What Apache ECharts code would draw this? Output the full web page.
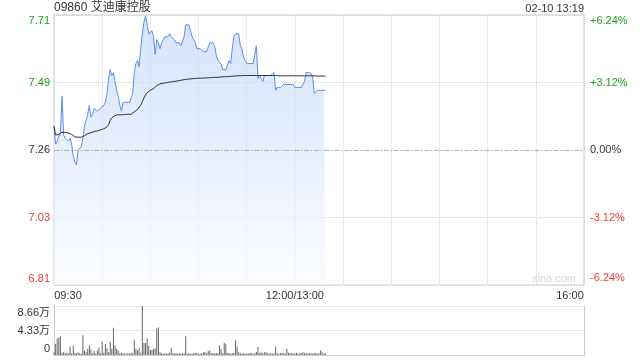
<!DOCTYPE html>
<html><head><meta charset="utf-8">
<script src="https://cdn.jsdelivr.net/npm/echarts@6/dist/echarts.min.js"></script>
<style>html,body{margin:0;padding:0;background:#fff}#c{width:640px;height:360px}</style>
</head><body><div id="c"></div>
<script>
const titleText = '09860 艾迪康控股';
const timeText = '02-10 13:19';
const prevClose = 7.26;
const pctRange = 6.24;
const totalMinutes = 330;
const timeTickLabels = {0: '09:30', 150: '12:00/13:00', 330: '16:00'};

const price = [
 7.34,7.28,7.29,7.29,7.32,7.44,7.31,7.30,7.30,7.29,
 7.30,7.28,7.24,7.22,7.21,7.26,7.26,7.27,7.30,7.34,
 7.36,7.38,7.41,7.37,7.38,7.40,7.40,7.39,7.39,7.40,
 7.40,7.41,7.42,7.45,7.50,7.53,7.51,7.52,7.49,7.46,
 7.44,7.41,7.39,7.42,7.42,7.42,7.42,7.42,7.42,7.45,
 7.52,7.55,7.56,7.54,7.60,7.65,7.69,7.71,7.68,7.65,
 7.65,7.66,7.64,7.58,7.63,7.62,7.60,7.62,7.63,7.64,
 7.64,7.64,7.65,7.64,7.64,7.63,7.62,7.62,7.62,7.61,
 7.61,7.64,7.68,7.68,7.68,7.68,7.64,7.63,7.62,7.60,
 7.60,7.60,7.60,7.59,7.59,7.59,7.59,7.62,7.62,7.62,
 7.61,7.58,7.56,7.56,7.55,7.53,7.53,7.53,7.53,7.56,
 7.55,7.60,7.64,7.65,7.65,7.65,7.61,7.60,7.57,7.56,
 7.55,7.55,7.55,7.55,7.55,7.55,7.61,7.50,7.51,7.50,
 7.49,7.51,7.51,7.51,7.51,7.51,7.51,7.52,7.46,7.47,
 7.47,7.47,7.47,7.48,7.48,7.48,7.48,7.48,7.48,7.48,
 7.47,7.47,7.47,7.47,7.47,7.47,7.49,7.52,7.52,7.52,
 7.52,7.51,7.45,7.45,7.46,7.46,7.46,7.46,7.46,7.46
];

const avgPrice = [
 7.340,7.310,7.310,7.312,7.315,7.320,7.320,7.319,7.318,7.317,
 7.316,7.312,7.306,7.304,7.303,7.303,7.303,7.303,7.304,7.308,
 7.312,7.315,7.318,7.318,7.320,7.322,7.323,7.324,7.326,7.328,
 7.329,7.331,7.333,7.338,7.345,7.360,7.368,7.373,7.376,7.377,
 7.378,7.378,7.378,7.379,7.379,7.379,7.380,7.380,7.380,7.383,
 7.388,7.393,7.396,7.398,7.410,7.422,7.435,7.445,7.452,7.457,
 7.461,7.463,7.466,7.470,7.476,7.480,7.482,7.483,7.484,7.485,
 7.486,7.487,7.488,7.488,7.489,7.490,7.491,7.492,7.493,7.494,
 7.495,7.496,7.497,7.498,7.498,7.499,7.499,7.500,7.500,7.500,
 7.501,7.501,7.501,7.502,7.502,7.502,7.502,7.503,7.503,7.503,
 7.504,7.504,7.504,7.505,7.505,7.505,7.506,7.506,7.506,7.506,
 7.507,7.507,7.508,7.508,7.509,7.509,7.509,7.510,7.510,7.510,
 7.510,7.510,7.510,7.510,7.510,7.510,7.510,7.510,7.510,7.510,
 7.510,7.510,7.510,7.510,7.510,7.510,7.510,7.510,7.510,7.510,
 7.509,7.509,7.509,7.509,7.509,7.509,7.509,7.509,7.509,7.509,
 7.509,7.509,7.509,7.509,7.509,7.509,7.509,7.509,7.509,7.509,
 7.509,7.509,7.509,7.508,7.508,7.508,7.508,7.508,7.508,7.508
];

// volume in 万 shares
const volume = [
 0.5,2.0,2.9,3.1,3.3,0.4,0.5,0.3,0.4,0.3,
 1.5,0.3,1.7,0.4,0.3,0.5,0.3,0.2,3.5,0.8,
 0.5,1.1,1.7,1.0,0.3,0.7,0.2,0.8,1.3,0.3,
 2.4,0.4,2.0,1.2,0.5,2.3,1.1,4.8,1.7,1.1,
 0.8,0.3,0.4,0.3,0.2,0.2,0.3,0.2,0.4,0.3,
 2.7,1.1,0.8,1.3,0.4,8.66,2.1,2.1,2.9,1.7,
 0.9,0.9,1.1,1.1,4.7,4.9,0.5,0.3,0.2,0.3,
 0.2,0.3,0.4,1.3,0.3,0.2,0.3,0.2,0.3,0.2,
 0.3,0.3,3.3,0.2,0.3,0.2,0.2,0.3,0.35,0.3,
 0.24,0.2,0.3,0.47,0.53,0.3,0.65,0.8,0.3,0.35,
 0.2,0.35,0.3,1.7,1.1,0.3,2.1,1.9,0.3,0.35,
 0.24,0.3,0.35,2.6,1.5,0.47,0.3,0.24,0.3,0.24,
 0.3,0.24,0.35,0.3,0.24,0.3,0.53,1.4,0.3,0.47,
 0.3,0.47,0.47,0.3,0.24,0.3,0.24,0.3,1.5,0.35,
 0.24,0.3,0.35,0.3,0.24,1.1,0.35,0.3,0.35,0.24,
 0.3,0.35,0.24,0.3,0.35,0.47,0.3,0.35,0.24,0.3,
 0.35,0.24,0.3,0.35,0.24,0.3,0.8,0.47,0.24,0.3
];
const volMax = 8.66; // 万

const FONT = '"Liberation Sans", Arial, "Noto Sans CJK SC", sans-serif';
const GREEN = '#1c9f1c', RED = '#f03a32', DARK = '#333';
const pMin = prevClose * (1 - pctRange / 100);
const pMax = prevClose * (1 + pctRange / 100);
const pInt = prevClose * pctRange / 200;

const chart = echarts.init(document.getElementById('c'));

function styleKey(d, atMax, atMin) {
  let k = Math.abs(d) < 1e-6 ? 'k' : (d > 0 ? 'g' : 'r');
  if (atMax) k += 't';
  if (atMin) k += 'b';
  return k;
}
const richColors = {
  k: {color: DARK}, g: {color: GREEN}, r: {color: RED},
  gt: {color: GREEN, padding: [11, 0, 0, 0]}, rb: {color: RED, padding: [0, 0, 13, 0]},
  kt: {color: DARK, padding: [11, 0, 0, 0]}, kb: {color: DARK, padding: [0, 0, 13, 0]}
};

chart.setOption({
  animation: false,
  backgroundColor: '#fff',
  textStyle: {fontFamily: FONT},
  title: [
    {text: titleText, left: 54, top: 2, padding: 0,
     textStyle: {fontSize: 12, fontWeight: 'normal', color: DARK, fontFamily: FONT}},
    {text: timeText, right: 56, top: 3, padding: 0,
     textStyle: {fontSize: 11, fontWeight: 'normal', color: DARK, fontFamily: FONT}}
  ],
  graphic: [
    {type: 'text', left: 532, top: 273, silent: true,
     style: {text: 'sina.com', fill: '#d6d6d6', font: '11px ' + FONT}}
  ],
  grid: [
    {left: 54, right: 56, top: 15, height: 270, show: true, borderColor: '#cccccc', borderWidth: 1},
    {left: 54, right: 56, top: 306, height: 49}
  ],
  xAxis: [
    {type: 'value', gridIndex: 0, min: 0, max: totalMinutes, interval: 30,
     axisLine: {show: false}, axisTick: {show: false},
     splitLine: {show: true, lineStyle: {color: '#d4d4d4', type: 'dotted'}},
     axisLabel: {
       margin: 5, fontSize: 11, color: DARK, fontFamily: FONT, showMinLabel: true, showMaxLabel: true,
       formatter: v => {
         const t = timeTickLabels[v];
         if (!t) return '';
         if (v === 0) return '{l|' + t + '}';
         if (v === totalMinutes) return '{r|' + t + '}';
         return '{m|' + t + '}';
       },
       rich: {l: {padding: [0, 0, 0, 28]}, r: {padding: [0, 28, 0, 0]}, m: {}}
     }},
    {type: 'value', gridIndex: 1, min: 0, max: totalMinutes, interval: 30,
     axisLine: {show: true, lineStyle: {color: '#cccccc'}}, axisTick: {show: false},
     axisLabel: {show: false}, splitLine: {show: false}}
  ],
  yAxis: [
    {type: 'value', gridIndex: 0, min: pMin, max: pMax, interval: pInt,
     axisLine: {show: false}, axisTick: {show: false},
     splitLine: {show: true, lineStyle: {color: '#d4d4d4', type: 'dotted'}},
     axisLabel: {
       margin: 4, fontSize: 11, fontFamily: FONT,
       formatter: v => {
         const k = styleKey(v - prevClose, Math.abs(v - pMax) < 1e-4, Math.abs(v - pMin) < 1e-4);
         return '{' + k + '|' + v.toFixed(2) + '}';
       },
       rich: richColors
     }},
    {type: 'value', gridIndex: 0, position: 'right', min: -pctRange, max: pctRange, interval: pctRange / 2,
     axisLine: {show: false}, axisTick: {show: false}, splitLine: {show: false},
     axisLabel: {
       margin: 6, fontSize: 11, fontFamily: FONT,
       formatter: v => {
         const k = styleKey(v, Math.abs(v - pctRange) < 1e-4, Math.abs(v + pctRange) < 1e-4);
         const s = (v > 1e-6 ? '+' : '') + v.toFixed(2) + '%';
         return '{' + k + '|' + s + '}';
       },
       rich: {
         k: {color: DARK}, g: {color: GREEN}, r: {color: RED},
         gt: {color: GREEN, padding: [12, 0, 0, 0]}, rb: {color: RED, padding: [0, 0, 14, 0]}
       }
     }},
    {type: 'value', gridIndex: 1, min: 0, max: volMax * 10000, interval: volMax * 5000,
     axisLine: {show: true, lineStyle: {color: '#cccccc'}}, axisTick: {show: false},
     splitLine: {show: true, lineStyle: {color: '#d4d4d4', type: 'dotted'}},
     axisLabel: {
       margin: 4, fontSize: 11, fontFamily: FONT, color: DARK,
       formatter: v => {
         if (v === 0) return '{b|0}';
         const s = (v / 10000).toFixed(2) + '万';
         if (Math.abs(v - volMax * 10000) < 1) return '{t|' + s + '}';
         return '{m|' + s + '}';
       },
       rich: {b: {padding: [0, 0, 13, 0]}, t: {padding: [13, 0, 0, 0]}, m: {}}
     }},
    {type: 'value', gridIndex: 1, position: 'right', min: 0, max: 1,
     axisLine: {show: true, lineStyle: {color: '#cccccc'}}, axisTick: {show: false},
     axisLabel: {show: false}, splitLine: {show: false}}
  ],
  series: [
    {type: 'line', name: 'price', xAxisIndex: 0, yAxisIndex: 0,
     data: price.map((v, i) => [i, v]),
     showSymbol: false, symbol: 'none', silent: true,
     lineStyle: {color: '#5a8eee', width: 1},
     areaStyle: {origin: 'start', color: new echarts.graphic.LinearGradient(0, 0, 0, 1, [
       {offset: 0, color: '#c3d7f7'}, {offset: 1, color: '#f8faff'}])},
     markLine: {silent: true, symbol: 'none', label: {show: false},
       lineStyle: {color: '#b4b4b4', type: [5, 2, 1, 2], width: 1},
       data: [{yAxis: prevClose}]},
     z: 3},
    {type: 'line', name: 'avg', xAxisIndex: 0, yAxisIndex: 0,
     data: avgPrice.map((v, i) => [i, v]),
     showSymbol: false, symbol: 'none', silent: true,
     lineStyle: {color: '#333333', width: 1}, z: 4},
    {type: 'bar', name: 'volume', xAxisIndex: 1, yAxisIndex: 2,
     data: volume.map((v, i) => [i, v * 10000]),
     barWidth: 1, silent: true, itemStyle: {color: '#666666'}}
  ]
});
</script></body></html>
